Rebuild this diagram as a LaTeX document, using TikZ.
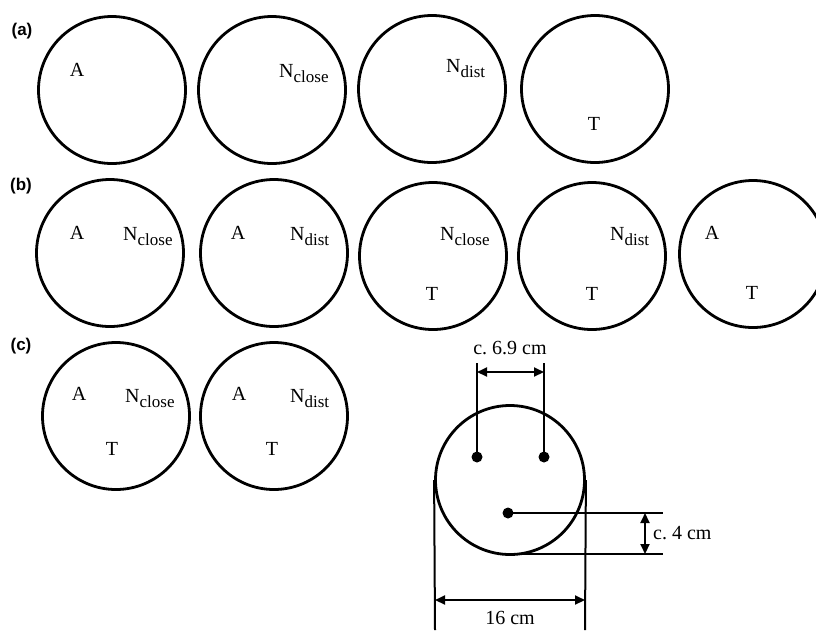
\documentclass[tikz,border=0pt]{standalone}
\usepackage{fontspec}
\setmainfont{Liberation Serif}
\newfontfamily\panelfont{Liberation Sans}
\usetikzlibrary{arrows.meta}
\frenchspacing
\newcommand{\lbl}[1]{N\raisebox{-5pt}{\fontsize{17}{18}\selectfont #1}}
\tikzset{
  ring/.style={draw, circle, line width=2.8pt, minimum size=147pt, inner sep=0pt},
  txt/.style={font=\fontsize{20}{22}\selectfont, inner sep=0pt, anchor=base},
  ntxt/.style={font=\fontsize{20}{22}\selectfont, inner sep=0pt, anchor=base west},
  panel/.style={font=\panelfont\bfseries\fontsize{17}{19}\selectfont, inner sep=0pt},
  dot/.style={circle, fill=black, minimum size=11pt, inner sep=0pt},
  dimline/.style={line width=2pt},
  dimarrow/.style={line width=2pt, {Triangle[length=10pt,width=9pt]}-{Triangle[length=10pt,width=9pt]}},
  dimtxt/.style={font=\fontsize{20}{22}\selectfont, inner sep=0pt}
}
\begin{document}
\begin{tikzpicture}[x=1pt,y=-1pt]
\useasboundingbox (0,0) rectangle (816,630);
\clip (0,0) rectangle (816,630);
% row (a)
\node[panel] (pa) at (22,31) {(a)};
\node[ring] (a1) at (112,90) {};
\node[ring] (a2) at (272,90) {};
\node[ring] (a3) at (432,89) {};
\node[ring] (a4) at (595,89) {};
\node[txt] (a1A) at (77,76) {A};
\node[ntxt] (a2N) at (279,77) {\lbl{close}};
\node[ntxt] (a3N) at (446,72) {\lbl{dist}};
\node[txt] (a4T) at (594,130) {T};
% row (b)
\node[panel] (pb) at (21,186) {(b)};
\node[ring] (b1) at (110,253) {};
\node[ring] (b2) at (274,253) {};
\node[ring] (b3) at (433,256) {};
\node[ring] (b4) at (592,256) {};
\node[ring] (b5) at (753,254) {};
\node[txt] (b1A) at (77,239) {A};
\node[ntxt] (b1N) at (123,240) {\lbl{close}};
\node[txt] (b2A) at (238,239) {A};
\node[ntxt] (b2N) at (290,240) {\lbl{dist}};
\node[ntxt] (b3N) at (440,240) {\lbl{close}};
\node[txt] (b3T) at (432,300) {T};
\node[ntxt] (b4N) at (610,240) {\lbl{dist}};
\node[txt] (b4T) at (592,300) {T};
\node[txt] (b5A) at (712,239) {A};
\node[txt] (b5T) at (752,299) {T};
% row (c)
\node[panel] (pc) at (21,346) {(c)};
\node[ring] (c1) at (116,416) {};
\node[ring] (c2) at (274,416) {};
\node[txt] (c1A) at (79,400) {A};
\node[ntxt] (c1N) at (125,402) {\lbl{close}};
\node[txt] (c1T) at (112,455) {T};
\node[txt] (c2A) at (239,400) {A};
\node[ntxt] (c2N) at (290,402) {\lbl{dist}};
\node[txt] (c2T) at (272,455) {T};
% measurement diagram
\node[ring, minimum size=149pt] (m) at (510,480) {};
\node[dot] (d1) at (477,457) {};
\node[dot] (d2) at (544,457) {};
\node[dot] (d3) at (508,513) {};
\coordinate (t1) at (477,363);
\coordinate (t2) at (544,363);
\coordinate (a1l) at (477,372);
\coordinate (a1r) at (544,372);
\draw[dimline] (d1.center) -- (t1);
\draw[dimline] (d2.center) -- (t2);
\draw[dimarrow] (a1l) -- (a1r);
\node[dimtxt] (l69) at (510,348) {c. 6.9 cm};
\coordinate (h1) at (663,513);
\coordinate (h2s) at (508,554);
\coordinate (h2) at (663,554);
\draw[dimline] (d3.center) -- (h1);
\draw[dimline] (h2s) -- (h2);
\coordinate (v1) at (645,513);
\coordinate (v2) at (645,554);
\draw[dimarrow] (v1) -- (v2);
\node[dimtxt, anchor=west] (l4) at (653,533) {c. 4 cm};
\coordinate (wl) at (435,630);
\coordinate (wr) at (585,630);
\draw[dimline] (m.west) -- (wl);
\draw[dimline] (m.east) -- (wr);
\coordinate (al) at (435,600);
\coordinate (ar) at (585,600);
\draw[dimarrow] (al) -- (ar);
\node[dimtxt] (l16) at (510,618) {16 cm};
\end{tikzpicture}
\end{document}
